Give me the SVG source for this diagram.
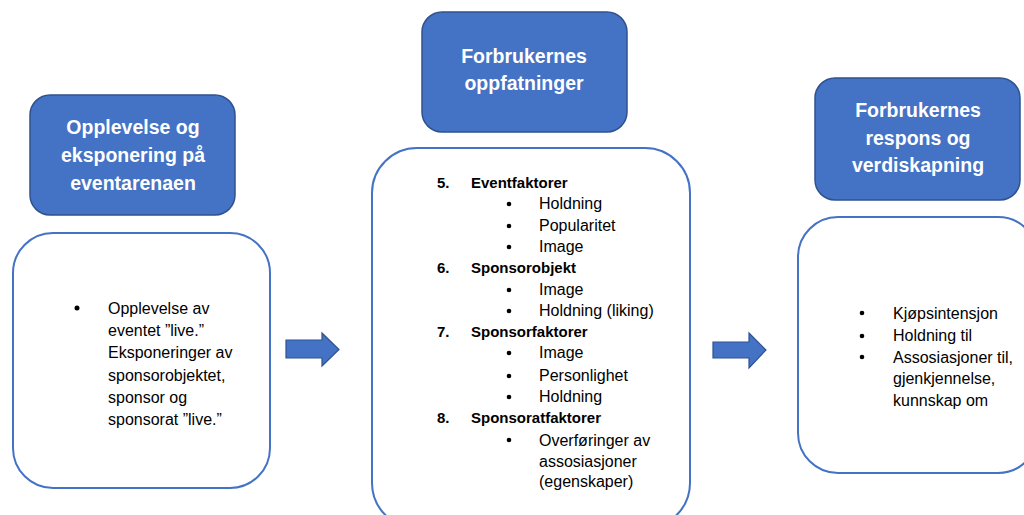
<svg xmlns="http://www.w3.org/2000/svg" width="1024" height="515" viewBox="0 0 1024 515">
<style>
.hdr{fill:#4472C4;stroke:#2F528F;stroke-width:1.5}
.body{fill:#fff;stroke:#4472C4;stroke-width:2}
.ht{font-family:"Liberation Sans",Arial,sans-serif;font-weight:bold;font-size:19.5px;fill:#fff;text-anchor:middle}
.t{font-family:"Liberation Sans",Arial,sans-serif;font-size:16px;fill:#000}
.b{font-weight:bold;font-size:15px}
.arrow{fill:#4472C4;stroke:#2F528F;stroke-width:1.2}
</style>
<rect width="1024" height="515" fill="#fff"/>
<g id="header1">
<rect class="hdr" x="30" y="95" width="205" height="120" rx="20"/>
<text class="ht" x="133" y="134">Opplevelse og</text>
<text class="ht" x="133" y="162">eksponering på</text>
<text class="ht" x="133" y="190">eventarenaen</text>
</g>
<g id="body1">
<rect class="body" x="13" y="233" width="257" height="255" rx="40"/>
<g class="t">
<circle cx="77" cy="308" r="2.5"/>
<text x="108" y="314">Opplevelse av</text>
<text x="108" y="336">eventet ”live.”</text>
<text x="108" y="358">Eksponeringer av</text>
<text x="108" y="381">sponsorobjektet,</text>
<text x="108" y="403">sponsor og</text>
<text x="108" y="425">sponsorat ”live.”</text>
</g>
</g>
<g id="header2">
<rect class="hdr" x="422" y="12" width="205" height="120" rx="20"/>
<text class="ht" x="524" y="63">Forbrukernes</text>
<text class="ht" x="524" y="90">oppfatninger</text>
</g>
<g id="body2">
<rect class="body" x="372" y="148" width="318" height="380" rx="45"/>
<g class="t">
<text class="b" x="437" y="188">5.</text><text class="b" x="471" y="188">Eventfaktorer</text>
<circle cx="509" cy="204" r="2.3"/><text x="539" y="209">Holdning</text>
<circle cx="509" cy="226" r="2.3"/><text x="539" y="231">Popularitet</text>
<circle cx="509" cy="247" r="2.3"/><text x="539" y="252">Image</text>
<text class="b" x="437" y="273">6.</text><text class="b" x="471" y="273">Sponsorobjekt</text>
<circle cx="509" cy="290" r="2.3"/><text x="539" y="295">Image</text>
<circle cx="509" cy="311" r="2.3"/><text x="539" y="316">Holdning (liking)</text>
<text class="b" x="437" y="337">7.</text><text class="b" x="471" y="337">Sponsorfaktorer</text>
<circle cx="509" cy="353" r="2.3"/><text x="539" y="358">Image</text>
<circle cx="509" cy="376" r="2.3"/><text x="539" y="381">Personlighet</text>
<circle cx="509" cy="397" r="2.3"/><text x="539" y="402">Holdning</text>
<text class="b" x="437" y="423">8.</text><text class="b" x="471" y="423">Sponsoratfaktorer</text>
<circle cx="509" cy="440" r="2.3"/><text x="539" y="446">Overføringer av</text>
<text x="539" y="467">assosiasjoner</text>
<text x="539" y="487">(egenskaper)</text>
</g>
</g>
<g id="header3">
<rect class="hdr" x="815" y="78" width="205" height="122" rx="20"/>
<text class="ht" x="918" y="117">Forbrukernes</text>
<text class="ht" x="918" y="145">respons og</text>
<text class="ht" x="918" y="172">verdiskapning</text>
</g>
<g id="body3">
<rect class="body" x="798" y="217" width="240" height="256" rx="40"/>
<g class="t">
<circle cx="862" cy="313" r="2.3"/><text x="893" y="319">Kjøpsintensjon</text>
<circle cx="862" cy="336" r="2.3"/><text x="893" y="341">Holdning til</text>
<circle cx="862" cy="357" r="2.3"/><text x="893" y="363">Assosiasjoner til,</text>
<text x="893" y="384">gjenkjennelse,</text>
<text x="893" y="406">kunnskap om</text>
</g>
</g>
<g id="connectors">
<polygon class="arrow" points="286,340 322,340 322,333 339,349.5 322,366 322,358 286,358"/>
<polygon class="arrow" points="713,342 749,342 749,333 766,350 749,368 749,358 713,358"/>
</g>
</svg>
